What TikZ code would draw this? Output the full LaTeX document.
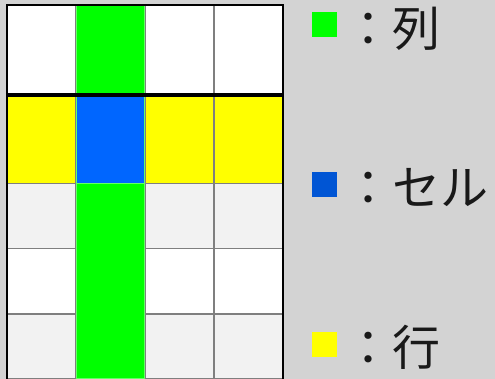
\documentclass[tikz,border=0pt]{standalone}
\usepackage{fontspec}
\newfontfamily\cjk{Noto Sans CJK JP}
\definecolor{bg}{HTML}{D3D3D3}
\definecolor{lgray}{HTML}{F2F2F2}
\definecolor{grid}{HTML}{7F7F7F}
\definecolor{colgreen}{HTML}{00FF00}
\definecolor{edgegreen}{HTML}{66FF66}
\definecolor{cellblue}{HTML}{0066FF}
\definecolor{legblue}{HTML}{0055D4}
\definecolor{rowyellow}{HTML}{FFFF00}
\tikzset{
  cell/.style={draw=grid, line width=1.2pt},
  colcell/.style={fill=colgreen, draw=edgegreen, line width=1pt},
  legsq/.style={minimum width=25pt, minimum height=25pt, inner sep=0pt, draw=none},
  legtxt/.style={anchor=west, inner sep=0pt, font=\cjk\fontsize{48}{48}\selectfont, text height=42.24pt, text depth=5.76pt, text=black!90},
}
\begin{document}
\begin{tikzpicture}[x=1pt,y=-1pt]
\useasboundingbox (0,0) rectangle (495,379);
\fill[bg] (0,0) rectangle (495,379);
% rows
\foreach \ya/\yb/\c in {5/95/white, 95/183.5/rowyellow, 183.5/248.5/lgray, 248.5/314/white, 314/378.5/lgray}{
  \foreach \xa/\xb in {7/76, 76/145, 145/214, 214/283}{
    \filldraw[cell, fill=\c] (\xa,\ya) rectangle (\xb,\yb);
  }
}
% green column
\foreach \ya/\yb in {5/95, 183.5/248.5, 248.5/314, 314/378.5}{
  \filldraw[colcell] (76.5,\ya) rectangle (144.5,\yb);
}
\fill[colgreen] (77,6) rectangle (144,94);
\fill[colgreen] (77,184) rectangle (144,378);
% blue cell
\filldraw[fill=cellblue, draw=edgegreen, line width=0.8pt] (76.5,96.5) rectangle (144.5,183);
% outer borders
\draw[black, line width=2pt] (7,379) -- (7,5) -- (283,5) -- (283,379);
\draw[black, line width=3.2pt] (6,95) -- (284,95);
% legend
\node[legsq, fill=colgreen] (sqc) at (324.5,24.5) {};
\node[legtxt] (tc) at (344,28.7) {：列};
\node[legsq, fill=legblue] (sqs) at (324.5,184.5) {};
\node[legtxt] (ts) at (344,187.5) {：セル};
\node[legsq, fill=rowyellow] (sqr) at (324.5,344.5) {};
\node[legtxt] (tr) at (344,347.5) {：行};
\end{tikzpicture}
\end{document}
